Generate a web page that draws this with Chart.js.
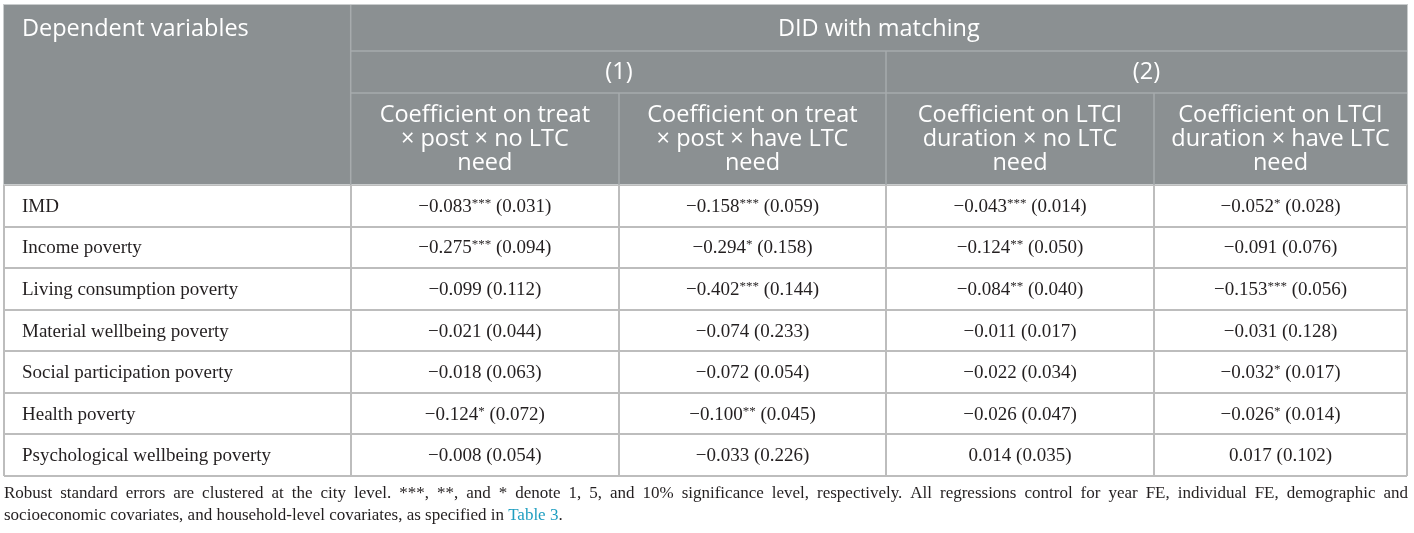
<!DOCTYPE html>
<html>
<head>
<meta charset="utf-8">
<script src="https://cdn.jsdelivr.net/npm/chart.js@4.4.1/dist/chart.umd.min.js"></script>
<style>
  html, body { margin: 0; padding: 0; background: #fff; }
</style>
</head>
<body>
<canvas id="table" width="1414" height="533"></canvas>
<script>
// Row labels (dependent variables)
const dependentVars = [
    'IMD',
    'Income poverty',
    'Living consumption poverty',
    'Material wellbeing poverty',
    'Social participation poverty',
    'Health poverty',
    'Psychological wellbeing poverty',
];

// Header texts
const stubHeader = 'Dependent variables';
const groupTitle = 'DID with matching';
const modelLabels = ['(1)', '(2)'];
const columnHeaders = [
    ['Coefficient on treat', '\u00d7 post \u00d7 no LTC', 'need'],
    ['Coefficient on treat', '\u00d7 post \u00d7 have LTC', 'need'],
    ['Coefficient on LTCI', 'duration \u00d7 no LTC', 'need'],
    ['Coefficient on LTCI', 'duration \u00d7 have LTC', 'need'],
];

// (1) treat x post x no LTC need
const coefTreatNoNeed = [-0.083, -0.275, -0.099, -0.021, -0.018, -0.124, -0.008];
const seTreatNoNeed = [0.031, 0.094, 0.112, 0.044, 0.063, 0.072, 0.054];
const starsTreatNoNeed = ['***', '***', '', '', '', '*', ''];

// (1) treat x post x have LTC need
const coefTreatNeed = [-0.158, -0.294, -0.402, -0.074, -0.072, -0.100, -0.033];
const seTreatNeed = [0.059, 0.158, 0.144, 0.233, 0.054, 0.045, 0.226];
const starsTreatNeed = ['***', '*', '***', '', '', '**', ''];

// (2) LTCI duration x no LTC need
const coefDurNoNeed = [-0.043, -0.124, -0.084, -0.011, -0.022, -0.026, 0.014];
const seDurNoNeed = [0.014, 0.050, 0.040, 0.017, 0.034, 0.047, 0.035];
const starsDurNoNeed = ['***', '**', '**', '', '', '', ''];

// (2) LTCI duration x have LTC need
const coefDurNeed = [-0.052, -0.091, -0.153, -0.031, -0.032, -0.026, 0.017];
const seDurNeed = [0.028, 0.076, 0.056, 0.128, 0.017, 0.014, 0.102];
const starsDurNeed = ['*', '', '***', '', '*', '*', ''];

// Footnote
const footnoteLines = [
    'Robust standard errors are clustered at the city level. ***, **, and * denote 1, 5, and 10% significance level, respectively. All regressions control for year FE, individual FE, demographic and',
    'socioeconomic covariates, and household-level covariates, as specified in Table 3.',
];
const footnoteLink = 'Table 3';

// Layout (table units along x = pixels inside the chart area)
const colEdges = [0, 346.7, 615, 882, 1150, 1403];
const headerTop = 5;
const headerLines = [51, 93];   // y of the two inner header rules
const headerFont = '400 23.5px "Open Sans"';
const bodyFont = '19px "Liberation Serif"';
const supFont = '13px "Liberation Serif"';
const noteFont = '17px "Liberation Serif"';

function fmt(v) {
    return (v < 0 ? '\u2212' : '') + Math.abs(v).toFixed(3);
}

const valueCols = [
    [coefTreatNoNeed, seTreatNoNeed, starsTreatNoNeed],
    [coefTreatNeed, seTreatNeed, starsTreatNeed],
    [coefDurNoNeed, seDurNoNeed, starsDurNoNeed],
    [coefDurNeed, seDurNeed, starsDurNeed],
];

const datasets = [{
    label: 'stub',
    align: 'left',
    data: dependentVars.map(v => ({ x: colEdges[0] + 18, y: v })),
    cells: dependentVars.map(v => ({ main: v, sup: '', tail: '' })),
}];
valueCols.forEach((c, k) => {
    datasets.push({
        label: 'col' + (k + 1),
        align: 'center',
        data: dependentVars.map(v => ({ x: (colEdges[k + 1] + colEdges[k + 2]) / 2, y: v })),
        cells: c[0].map((v, i) => ({
            main: fmt(v),
            sup: c[2][i],
            tail: ' (' + c[1][i].toFixed(3) + ')',
        })),
    });
});

// Draws cell texts at the dataset points, the header block and the footnote
const tablePlugin = {
    id: 'tableText',
    afterDatasetsDraw(chart) {
        const ctx = chart.ctx;
        ctx.save();
        ctx.fillStyle = '#231f20';
        ctx.textBaseline = 'alphabetic';
        ctx.textAlign = 'left';
        chart.data.datasets.forEach((ds, d) => {
            const meta = chart.getDatasetMeta(d);
            meta.data.forEach((pt, i) => {
                const cell = ds.cells[i];
                ctx.font = bodyFont;
                const wMain = ctx.measureText(cell.main).width;
                const wTail = ctx.measureText(cell.tail).width;
                ctx.font = supFont;
                const wSup = ctx.measureText(cell.sup).width;
                const total = wMain + wSup + wTail;
                let x = ds.align === 'left' ? pt.x : pt.x - total / 2;
                const base = pt.y + 6;
                ctx.font = bodyFont;
                ctx.fillText(cell.main, x, base);
                x += wMain;
                if (cell.sup) {
                    ctx.font = supFont;
                    ctx.fillText(cell.sup, x, base - 5);
                    x += wSup;
                }
                ctx.font = bodyFont;
                ctx.fillText(cell.tail, x, base);
            });
        });
        ctx.restore();
    },
    afterDraw(chart) {
        const ctx = chart.ctx;
        const area = chart.chartArea;
        const xs = chart.scales.x;
        const px = v => xs.getPixelForValue(v);
        const left = area.left, right = area.right, bottom = area.top;

        ctx.save();
        // header background
        ctx.fillStyle = '#8b9092';
        ctx.fillRect(left, headerTop, right - left, bottom - headerTop);
        ctx.strokeStyle = '#c9cccd';
        ctx.lineWidth = 1;
        ctx.strokeRect(left - 0.5, headerTop - 0.5, right - left + 1, bottom - headerTop);

        // header rules
        ctx.strokeStyle = '#a7abad';
        ctx.lineWidth = 1.5;
        ctx.beginPath();
        headerLines.forEach(y => { ctx.moveTo(px(colEdges[1]), y); ctx.lineTo(right, y); });
        ctx.moveTo(px(colEdges[1]), headerTop); ctx.lineTo(px(colEdges[1]), bottom);
        ctx.moveTo(px(colEdges[3]), headerLines[0]); ctx.lineTo(px(colEdges[3]), bottom);
        ctx.moveTo(px(colEdges[2]), headerLines[1]); ctx.lineTo(px(colEdges[2]), bottom);
        ctx.moveTo(px(colEdges[4]), headerLines[1]); ctx.lineTo(px(colEdges[4]), bottom);
        ctx.stroke();

        // header texts
        ctx.fillStyle = '#ffffff';
        ctx.font = headerFont;
        ctx.textBaseline = 'middle';
        ctx.textAlign = 'left';
        ctx.fillText(stubHeader, px(colEdges[0]) + 18, 29);
        ctx.textAlign = 'center';
        ctx.fillText(groupTitle, (px(colEdges[1]) + right) / 2, 29);
        ctx.fillText(modelLabels[0], px(colEdges[2]), 72);
        ctx.fillText(modelLabels[1], (px(colEdges[3]) + right) / 2, 72);
        columnHeaders.forEach((lines, k) => {
            const cx = (px(colEdges[k + 1]) + px(colEdges[k + 2])) / 2;
            lines.forEach((t, j) => ctx.fillText(t, cx, 115 + j * 24));
        });

        // footnote
        ctx.font = noteFont;
        ctx.textBaseline = 'alphabetic';
        ctx.textAlign = 'left';
        ctx.fillStyle = '#231f20';
        const nx0 = 4, nx1 = 1408;
        const y1 = area.bottom + 22, y2 = area.bottom + 44;
        const words = footnoteLines[0].split(' ');
        const ww = words.map(w => ctx.measureText(w).width);
        const gap = (nx1 - nx0 - ww.reduce((a, b) => a + b, 0)) / (words.length - 1);
        let x = nx0;
        words.forEach((w, i) => { ctx.fillText(w, x, y1); x += ww[i] + gap; });

        const line2 = footnoteLines[1];
        const at = line2.indexOf(footnoteLink);
        const pre = line2.slice(0, at), post = line2.slice(at + footnoteLink.length);
        x = nx0;
        ctx.fillText(pre, x, y2);
        x += ctx.measureText(pre).width;
        ctx.fillStyle = '#1e9ec0';
        ctx.fillText(footnoteLink, x, y2);
        x += ctx.measureText(footnoteLink).width;
        ctx.fillStyle = '#231f20';
        ctx.fillText(post, x, y2);
        ctx.restore();
    },
};

const gridStyle = { color: '#bdbdbd', lineWidth: 2, drawTicks: false };

new Chart(document.getElementById('table'), {
    type: 'scatter',
    data: { datasets: datasets },
    options: {
        responsive: false,
        animation: false,
        devicePixelRatio: 1,
        layout: { padding: { left: 4, right: 7, top: 185, bottom: 57 } },
        elements: { point: { radius: 0, hoverRadius: 0 } },
        plugins: { legend: { display: false }, tooltip: { enabled: false } },
        events: [],
        scales: {
            x: {
                type: 'linear',
                min: 0,
                max: 1403,
                afterBuildTicks: s => { s.ticks = colEdges.map(v => ({ value: v })); },
                afterFit: s => { s.height = 0; },
                ticks: { display: false },
                grid: gridStyle,
                border: { display: false },
            },
            y: {
                type: 'category',
                labels: dependentVars,
                offset: true,
                afterFit: s => { s.width = 0; },
                ticks: { display: false },
                grid: Object.assign({ offset: true }, gridStyle),
                border: { display: false },
            },
        },
    },
    plugins: [tablePlugin],
});
</script>
</body>
</html>
